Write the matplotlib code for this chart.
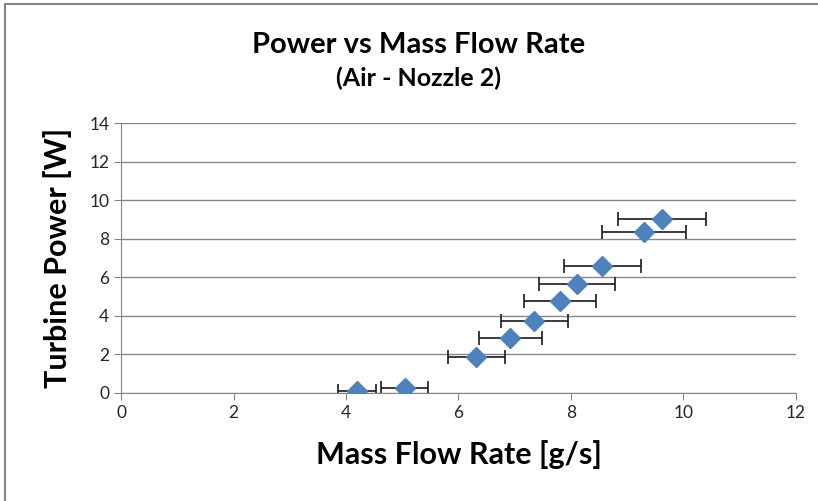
import matplotlib
matplotlib.use('Agg')
import matplotlib.pyplot as plt
from matplotlib.patches import Rectangle

plt.rcParams['font.family'] = ['Lato', 'DejaVu Sans']

# data
mass_flow = [4.19, 5.04, 6.32, 6.92, 7.35, 7.80, 8.11, 8.56, 9.30, 9.62]
power = [0.10, 0.23, 1.87, 2.85, 3.73, 4.78, 5.66, 6.56, 8.33, 9.05]
flow_err = [0.34, 0.41, 0.50, 0.56, 0.60, 0.64, 0.67, 0.69, 0.75, 0.79]

fig = plt.figure(figsize=(8.18, 5.01), dpi=100)
ax = fig.add_axes([0.148, 0.216, 0.825, 0.538])

# outer chart border like excel
fig.patches.append(Rectangle((0.006, -0.05), 1.2, 1.042, transform=fig.transFigure,
                             fill=False, edgecolor='#868686', linewidth=1.5))

ax.errorbar(mass_flow, power, xerr=flow_err, fmt='none', ecolor='#1a1a1a',
            elinewidth=1.2, capsize=5, capthick=1.2, zorder=2)
ax.plot(mass_flow, power, 'D', color='#4F81BD', markersize=10.5, zorder=3)

ax.set_xlim(0, 12)
ax.set_ylim(0, 14)
ax.set_xticks(range(0, 13, 2))
ax.set_yticks(range(0, 15, 2))
ax.yaxis.grid(True, color='#868686', linewidth=1)
ax.set_axisbelow(True)
for s in ['top', 'right']:
    ax.spines[s].set_visible(False)
for s in ['left', 'bottom']:
    ax.spines[s].set_color('#868686')
ax.tick_params(axis='both', labelsize=12.5, colors='#868686', labelcolor='#262626',
               length=5, direction='out')

ax.set_xlabel('Mass Flow Rate [g/s]', fontsize=22, fontweight='bold', labelpad=14)
ax.set_ylabel('Turbine Power [W]', fontsize=22, fontweight='bold', labelpad=12)

fig.text(0.512, 0.91, 'Power vs Mass Flow Rate', fontsize=21, fontweight='bold',
         ha='center', va='center')
fig.text(0.512, 0.844, '(Air - Nozzle 2)', fontsize=18, fontweight='bold',
         ha='center', va='center')

fig.savefig('out.png', dpi=100)
